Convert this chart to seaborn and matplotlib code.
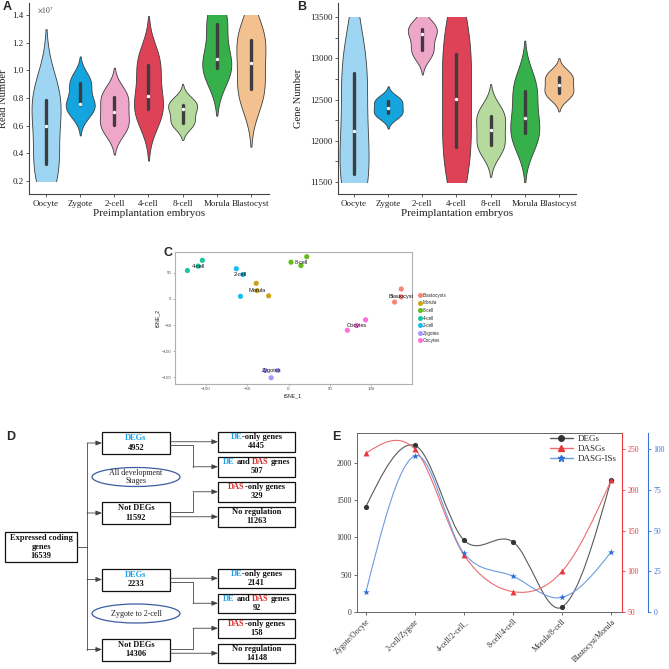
import matplotlib.pyplot as plt
import numpy as np
import pandas as pd
import seaborn as sns
from matplotlib.lines import Line2D
from matplotlib.patches import Ellipse, PathPatch, Rectangle
from matplotlib.path import Path


STAGES = ["Oocyte", "Zygote", "2-cell", "4-cell", "8-cell", "Morula", "Blastocyst"]
STAGE_COLORS = ["#9dd5f2", "#14a5df", "#eea6c9", "#dd4257", "#b6d99d", "#36b04a", "#f3c18f"]

# panel A, read number (x1e7), per stage
read_number = [
    [0.25, 0.326, 0.601, 0.789, 0.85],
    [0.70, 0.748, 0.760, 0.905, 0.93],
    [0.58, 0.603, 0.700, 0.804, 0.83],
    [0.66, 0.724, 0.818, 1.038, 1.08],
    [0.62, 0.620, 0.717, 0.748, 0.78],
    [0.99, 1.014, 1.079, 1.335, 1.40],
    [0.80, 0.864, 1.055, 1.219, 1.28],
]
read_ticks = [0.2, 0.4, 0.6, 0.8, 1.0, 1.2, 1.4]

# panel B, gene number, per stage
gene_number = [
    [11500, 11598, 12116, 12820, 13000],
    [12300, 12335, 12403, 12483, 12510],
    [13060, 13103, 13294, 13358, 13400],
    [11700, 11930, 12505, 13054, 13300],
    [11900, 11947, 12132, 12302, 12350],
    [12000, 12092, 12274, 12609, 12700],
    [12550, 12578, 12675, 12779, 12810],
]
gene_ticks = [11500, 12000, 12500, 13000, 13500]

# panel C, tSNE
tsne_order = ["Blastocysts", "Morula", "8-cell", "4-cell", "2-cell", "Zygotes", "Oocytes"]
tsne_names = ["Blastocyst", "Morula", "8-cell", "4-cell", "2-cell", "Zygotes", "Oocytes"]
tsne_colors = ["#F8766D", "#C49A00", "#53B400", "#00C094", "#00B6EB", "#A58AFF", "#FB61D7"]
tsne_group = ["Blastocysts"] * 3 + ["Morula"] * 3 + ["8-cell"] * 3 + ["4-cell"] * 3 \
    + ["2-cell"] * 3 + ["Zygotes"] * 3 + ["Oocytes"] * 3
tsne_1 = [136, 136, 128, -39, -38, -24, 3, 15, 22, -122, -104, -109,
          -63, -55, -58, -28, -13, -21, 93, 82, 71]
tsne_2 = [19, 4, -6, 30, 16, 6, 70.5, 64, 81, 54.5, 74, 63,
          58, 47, 5, -137, -137, -151, -40, -51, -60]

# panel D, gene counts
expressed_total = 16539
all_stage_counts = [4952, 11592]
all_split_counts = [4445, 507, 329, 11263]
zyg_stage_counts = [2233, 14306]
zyg_split_counts = [2141, 92, 158, 14148]

# panel E
pair_labels = ["Zygote/Oocyte", "2-cell/Zygote", "4-cell/2-cell_", "8-cell/4-cell",
               "Morula/8-cell", "Blastocyst/Morula"]
degs = [1409, 2233, 962, 940, 67, 1776]
dasgs = [245, 250, 120, 75, 100, 212]
dasg_iss = [12, 96, 36, 22, 9, 37]

CYAN = "#1ea0e6"
RED = "#d62a2a"

sns.set_theme(style="ticks")
plt.rcParams["font.family"] = ["Liberation Serif", "DejaVu Serif"]
plt.rcParams["mathtext.fontset"] = "stix"

fig = plt.figure(figsize=(6.69, 6.69), dpi=100)
W = H = 669.0


def px_axes(x0, y0, x1, y1):
    return fig.add_axes([x0 / W, 1 - y1 / H, (x1 - x0) / W, (y1 - y0) / H])


def panel_letter(x, y, s):
    fig.text(x / W, 1 - y / H, s, fontsize=9, fontweight="bold",
             family="Liberation Sans", ha="left", va="center")


def draw_violins(ax, values, lo, hi):
    df = pd.DataFrame({
        "stage": np.repeat(STAGES, [len(v) for v in values]),
        "value": np.concatenate(values),
    })
    sns.violinplot(data=df, x="stage", y="value", hue="stage", order=STAGES,
                   hue_order=STAGES, palette=STAGE_COLORS, legend=False,
                   saturation=1, density_norm="width", width=0.85, cut=2.3,
                   linewidth=0.6, linecolor="#3d3d3d", inner="box",
                   inner_kws=dict(box_width=2.4, whis_width=0, marker="o"), ax=ax)
    clip = Rectangle((-1, lo), 9, hi - lo, transform=ax.transData)
    for coll in ax.collections:
        coll.set_clip_path(clip)
    for side in ["top", "right"]:
        ax.spines[side].set_visible(False)
    for side in ["left", "bottom"]:
        ax.spines[side].set_color("#444444")
        ax.spines[side].set_linewidth(0.8)
    ax.tick_params(labelsize=6.5, length=2, width=0.6, colors="#444444", labelcolor="#222222", pad=2)
    ax.set_xlabel("Preimplantation embryos", fontsize=8, labelpad=1, color="#222222")


# ---- A
ax_a = px_axes(29, 3, 269, 194)
draw_violins(ax_a, read_number, 0.2, 1.4)
ax_a.set_xlim(-0.5, 6.53)
ax_a.set_ylim(0.106, 1.487)
ax_a.set_yticks(read_ticks)
ax_a.set_yticklabels([f"{t:.1f}" for t in read_ticks])
ax_a.set_ylabel("Read Number", fontsize=7.6, color="#222222")
ax_a.yaxis.set_label_coords(-0.086, 0.5)
ax_a.text(0.035, 0.995, r"$\times10^7$", transform=ax_a.transAxes, fontsize=5.5,
          va="top", ha="left", color="#444444")
panel_letter(3, 7, "A")

# ---- B
ax_b = px_axes(338, 3, 576, 194)
draw_violins(ax_b, gene_number, 11500, 13500)
ax_b.set_xlim(-0.47, 6.5)
ax_b.set_ylim(11354, 13673)
ax_b.set_yticks(gene_ticks)
ax_b.set_yticks(np.arange(11500, 13501, 250), minor=True)
ax_b.tick_params(axis="y", which="minor", length=2, width=0.6, color="#444444")
ax_b.set_ylabel("Gene Number", fontsize=7.6, color="#222222")
ax_b.yaxis.set_label_coords(-0.145, 0.5)
panel_letter(297, 7, "B")

# ---- C
ax_c = px_axes(175, 252, 412, 384)
tsne = pd.DataFrame({"group": tsne_group, "tSNE_1": tsne_1, "tSNE_2": tsne_2})
sns.scatterplot(data=tsne, x="tSNE_1", y="tSNE_2", hue="group", hue_order=tsne_order,
                palette=tsne_colors, s=14, linewidth=0, alpha=0.9, legend=False, ax=ax_c)
for grp, name in zip(tsne_order, tsne_names):
    sub = tsne[tsne["group"] == grp]
    ax_c.text(sub["tSNE_1"].median(), sub["tSNE_2"].median(), name, fontsize=4,
              family="Liberation Sans", ha="center", va="center", color="#111111")
ax_c.set_xlim(-137, 149)
ax_c.set_ylim(-163, 90)
ax_c.set_xticks([-100, -50, 0, 50, 100])
ax_c.set_yticks([-150, -100, -50, 0, 50])
for sp in ax_c.spines.values():
    sp.set_color("#b0b0b0")
    sp.set_linewidth(0.8)
ax_c.tick_params(labelsize=3.2, length=1.5, width=0.4, colors="#888888",
                 labelcolor="#555555", pad=1)
for lab in ax_c.get_xticklabels() + ax_c.get_yticklabels():
    lab.set_family("Liberation Sans")
ax_c.set_xlabel("tSNE_1", fontsize=3.8, family="Liberation Sans", labelpad=1)
ax_c.set_ylabel("tSNE_2", fontsize=3.8, family="Liberation Sans", labelpad=1)
handles = [Line2D([0], [0], marker="o", linestyle="None", markersize=3.6,
                  markerfacecolor=c, markeredgewidth=0, alpha=0.9) for c in tsne_colors]
leg = ax_c.legend(handles, tsne_order, loc="center left", bbox_to_anchor=(1.015, 0.5),
                  frameon=False, prop={"family": "Liberation Sans", "size": 3.3},
                  handlelength=0.8, handletextpad=0.2, labelspacing=0.55, borderpad=0)
panel_letter(164, 253, "C")

# ---- D
ax_d = px_axes(0, 420, 330, 669)
ax_d.set_xlim(0, 330)
ax_d.set_ylim(669, 420)
ax_d.axis("off")
renderer = fig.canvas.get_renderer()
text_kw = dict(fontsize=6.0, fontweight="bold", family="Liberation Serif")


def text_px(s, **kw):
    t = ax_d.text(0, 0, s, **kw)
    w = t.get_window_extent(renderer).width
    t.remove()
    return w


space_w = text_px("a a", **text_kw) - text_px("aa", **text_kw)


def rich_line(x, y, parts):
    widths = []
    for s, _ in parts:
        core = s.strip()
        n_sp = len(s) - len(core)
        widths.append(text_px(core, **text_kw) + n_sp * space_w)
    left = x - sum(widths) / 2
    for (s, c), w in zip(parts, widths):
        lead = (len(s) - len(s.lstrip())) * space_w
        ax_d.text(left + lead, y, s.strip(), color=c, ha="left", va="center", **text_kw)
        left += w


def box(x0, y0, x1, y1, lines):
    ax_d.add_patch(Rectangle((x0, y0), x1 - x0, y1 - y0, facecolor="white",
                             edgecolor="#111111", lw=0.9, zorder=2))
    n = len(lines)
    step = (y1 - y0) / (n + 0.25)
    for i, parts in enumerate(lines):
        yc = (y0 + y1) / 2 + (i - (n - 1) / 2) * step
        rich_line((x0 + x1) / 2, yc, parts)


def arrow(x0, y0, x1, y1):
    ax_d.annotate("", xy=(x1, y1), xytext=(x0, y0),
                  arrowprops=dict(arrowstyle="-|>,head_length=0.3,head_width=0.12",
                                  color="#444444", lw=0.6, shrinkA=0, shrinkB=0))


def elbow(x0, y0, xm, y1, x1):
    ax_d.plot([x0, xm, xm], [y0, y0, y1], color="#444444", lw=0.6)
    arrow(xm, y1, x1, y1)


LX0, LX1, RX0, RX1, MIDX, TRUNK = 102, 170, 218, 295, 193, 87
LEFT_OFF = [0, 70]
RIGHT_OFF = [0, 25, 50, 75]


def group(base, stage_counts, split_counts, oval_text):
    centers = []
    for off, name, cnt in zip(LEFT_OFF, ["DEGs", "Not DEGs"], stage_counts):
        y0 = base + off
        color = CYAN if name == "DEGs" else "#111111"
        box(LX0, y0, LX1, y0 + 22, [[(name, color)], [(str(cnt), "#111111")]])
        centers.append(y0 + 11)
    heads = [
        [("DE", CYAN), ("-only genes", "#111111")],
        [("DE", CYAN), (" and ", "#111111"), ("DAS", RED), (" genes", "#111111")],
        [("DAS", RED), ("-only genes", "#111111")],
        [("No regulation", "#111111")],
    ]
    rcent = []
    for off, head, cnt in zip(RIGHT_OFF, heads, split_counts):
        y0 = base + off
        box(RX0, y0, RX1, y0 + 19.5, [head, [(str(cnt), "#111111")]])
        rcent.append(y0 + 9.75)
    arrow(LX1, rcent[0], RX0, rcent[0])
    elbow(LX1, centers[0] + 2, MIDX, rcent[1], RX0)
    elbow(LX1, centers[1] - 1, MIDX, rcent[2], RX0)
    arrow(LX1, rcent[3], RX0, rcent[3])
    ax_d.add_patch(Ellipse((136, base + 45), 88, 19, facecolor="white",
                           edgecolor="#3b5fa0", lw=0.9, zorder=2))
    ax_d.text(136, base + 45, oval_text, ha="center", va="center", fontsize=5.8,
              family="Liberation Serif", color="#222222", zorder=3, linespacing=1.1)
    return centers


c_top = group(432, all_stage_counts, all_split_counts, "All development\nStages")
c_bot = group(568.5, zyg_stage_counts, zyg_split_counts, "Zygote to 2-cell")
box(5, 532, 77, 562, [[("Expressed coding", "#111111")], [("genes", "#111111")],
                      [(str(expressed_total), "#111111")]])
ax_d.plot([77, TRUNK], [547, 547], color="#444444", lw=0.6)
all_c = c_top + c_bot
ax_d.plot([TRUNK, TRUNK], [min(all_c), max(all_c)], color="#444444", lw=0.6)
for yc in all_c:
    arrow(TRUNK, yc, LX0, yc)
panel_letter(6, 437, "D")

# ---- E
ax_e = px_axes(357, 433, 622, 612)
ax_r = ax_e.twinx()
ax_s = ax_e.twinx()
ax_s.spines["right"].set_position(("axes", 1 + 26 / 265))


def smooth_path(ys):
    # cubic bezier through the points (spline-style connection)
    ys = np.asarray(ys, dtype=float)
    n = len(ys)
    m = np.zeros(n)
    m[1:-1] = (ys[2:] - ys[:-2]) / 2
    m[0] = (3 * (ys[1] - ys[0]) - m[1]) / 2
    m[-1] = (3 * (ys[-1] - ys[-2]) - m[-2]) / 2
    verts = [(0, ys[0])]
    codes = [Path.MOVETO]
    for i in range(n - 1):
        verts += [(i + 1 / 3, ys[i] + m[i] / 3), (i + 2 / 3, ys[i + 1] - m[i + 1] / 3),
                  (i + 1, ys[i + 1])]
        codes += [Path.CURVE4] * 3
    return Path(verts, codes)


xpos = np.arange(len(pair_labels))
series = [
    (ax_e, degs, "#5a5a5a", "#333333", "o", 14, "DEGs"),
    (ax_r, dasgs, "#ec6b6e", "#e8383d", "^", 18, "DASGs"),
    (ax_s, dasg_iss, "#6e9be0", "#2e6fd8", "*", 26, "DASG-ISs"),
]
leg_handles = []
for axis, vals, lc, mc, mk, size, name in series:
    axis.add_patch(PathPatch(smooth_path(vals), facecolor="none", edgecolor=lc, lw=0.8, zorder=2))
    sns.scatterplot(x=xpos, y=vals, marker=mk, color=mc, s=size, linewidth=0, ax=axis, zorder=3)
    leg_handles.append(Line2D([0], [0], color=lc, lw=1.0, marker=mk, markersize=4 if mk != "*" else 5,
                              markerfacecolor=mc, markeredgecolor=mc, label=name))

ax_e.set_xlim(-0.18, 5.22)
ax_e.set_ylim(0, 2400)
ax_r.set_ylim(50, 270)
ax_s.set_ylim(0, 110)
ax_e.set_yticks([0, 500, 1000, 1500, 2000])
ax_r.set_yticks([50, 100, 150, 200, 250])
ax_s.set_yticks([0, 25, 50, 75, 100])
ax_e.set_xticks(xpos)
ax_e.set_xticklabels(pair_labels, rotation=45, ha="right", rotation_mode="anchor")
ax_e.spines["right"].set_visible(False)
for side in ["left", "bottom", "top"]:
    ax_e.spines[side].set_color("#666666")
    ax_e.spines[side].set_linewidth(0.7)
for axis, col in [(ax_r, "#e8383d"), (ax_s, "#3b72d4")]:
    for side in ["left", "bottom", "top"]:
        axis.spines[side].set_visible(False)
    axis.spines["right"].set_color(col)
    axis.spines["right"].set_linewidth(0.8)
    axis.tick_params(axis="y", labelsize=5.6, length=2, width=0.6, colors=col, pad=2)
ax_e.tick_params(labelsize=5.6, length=2, width=0.6, colors="#555555", labelcolor="#333333", pad=2)
ax_e.set_xlabel("")
ax_s.legend(handles=leg_handles, loc="upper right", bbox_to_anchor=(1.0, 1.02), frameon=False,
            fontsize=6.5, handlelength=2.6, handletextpad=0.5, labelspacing=0.2, borderaxespad=0.2)
panel_letter(332, 437, "E")

fig.savefig("out.png", dpi=100)
